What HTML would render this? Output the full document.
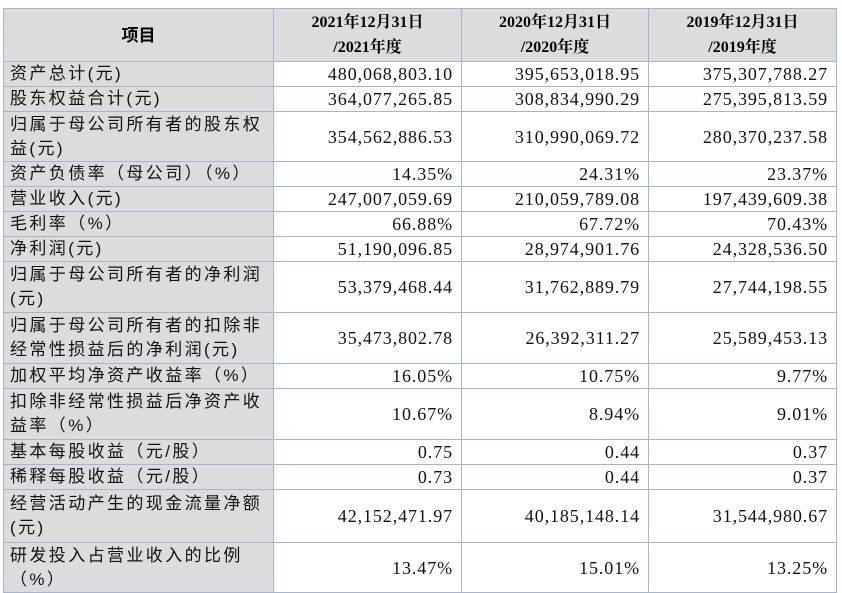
<!DOCTYPE html>
<html><head><meta charset="utf-8"><style>
body{margin:0;background:#fff;width:842px;height:593px;overflow:hidden}
table{position:absolute;left:3px;top:8px;border-collapse:collapse;table-layout:fixed;width:833px}
td{border:1.5px solid #9fb6da;padding:0 8px;line-height:24px;color:#111}
td.l{background:#dcdcdc;font-family:"Liberation Sans","Noto Sans CJK SC",sans-serif;padding:0 2px 0 6px;font-size:17px;letter-spacing:2.4px;line-height:24px}
td.v{text-align:right;font-family:"Liberation Serif","Noto Serif CJK SC",serif;font-size:18px;letter-spacing:0.9px;padding-right:8px}
th{background:#dcdcdc;border:1.5px solid #9fb6da;font-family:"Liberation Serif","Noto Serif CJK SC",serif;font-size:16px;line-height:25px;font-weight:bold}
th.f{font-family:"Liberation Sans","Noto Sans CJK SC",sans-serif;font-size:17px}
</style></head><body>
<table>
<colgroup><col style="width:270px"><col style="width:188px"><col style="width:187px"><col style="width:188px"></colgroup>
<tr style="height:49px"><th class="f">项目</th><th>2021年12月31日<br>/2021年度</th><th>2020年12月31日<br>/2020年度</th><th>2019年12月31日<br>/2019年度</th></tr>
<tr style="height:25px"><td class="l">资产总计(元)</td><td class="v">480,068,803.10</td><td class="v">395,653,018.95</td><td class="v">375,307,788.27</td></tr>
<tr style="height:25px"><td class="l">股东权益合计(元)</td><td class="v">364,077,265.85</td><td class="v">308,834,990.29</td><td class="v">275,395,813.59</td></tr>
<tr style="height:50px"><td class="l">归属于母公司所有者的股东权益(元)</td><td class="v">354,562,886.53</td><td class="v">310,990,069.72</td><td class="v">280,370,237.58</td></tr>
<tr style="height:25px"><td class="l">资产负债率（母公司）（%）</td><td class="v">14.35%</td><td class="v">24.31%</td><td class="v">23.37%</td></tr>
<tr style="height:25px"><td class="l">营业收入(元)</td><td class="v">247,007,059.69</td><td class="v">210,059,789.08</td><td class="v">197,439,609.38</td></tr>
<tr style="height:25px"><td class="l">毛利率（%）</td><td class="v">66.88%</td><td class="v">67.72%</td><td class="v">70.43%</td></tr>
<tr style="height:25px"><td class="l">净利润(元)</td><td class="v">51,190,096.85</td><td class="v">28,974,901.76</td><td class="v">24,328,536.50</td></tr>
<tr style="height:51px"><td class="l">归属于母公司所有者的净利润(元)</td><td class="v">53,379,468.44</td><td class="v">31,762,889.79</td><td class="v">27,744,198.55</td></tr>
<tr style="height:51px"><td class="l">归属于母公司所有者的扣除非经常性损益后的净利润(元)</td><td class="v">35,473,802.78</td><td class="v">26,392,311.27</td><td class="v">25,589,453.13</td></tr>
<tr style="height:25px"><td class="l">加权平均净资产收益率（%）</td><td class="v">16.05%</td><td class="v">10.75%</td><td class="v">9.77%</td></tr>
<tr style="height:51px"><td class="l">扣除非经常性损益后净资产收益率（%）</td><td class="v">10.67%</td><td class="v">8.94%</td><td class="v">9.01%</td></tr>
<tr style="height:25px"><td class="l">基本每股收益（元/股）</td><td class="v">0.75</td><td class="v">0.44</td><td class="v">0.37</td></tr>
<tr style="height:25px"><td class="l">稀释每股收益（元/股）</td><td class="v">0.73</td><td class="v">0.44</td><td class="v">0.37</td></tr>
<tr style="height:53px"><td class="l">经营活动产生的现金流量净额(元)</td><td class="v">42,152,471.97</td><td class="v">40,185,148.14</td><td class="v">31,544,980.67</td></tr>
<tr style="height:50px"><td class="l">研发投入占营业收入的比例（%）</td><td class="v">13.47%</td><td class="v">15.01%</td><td class="v">13.25%</td></tr>
</table>
</body></html>
